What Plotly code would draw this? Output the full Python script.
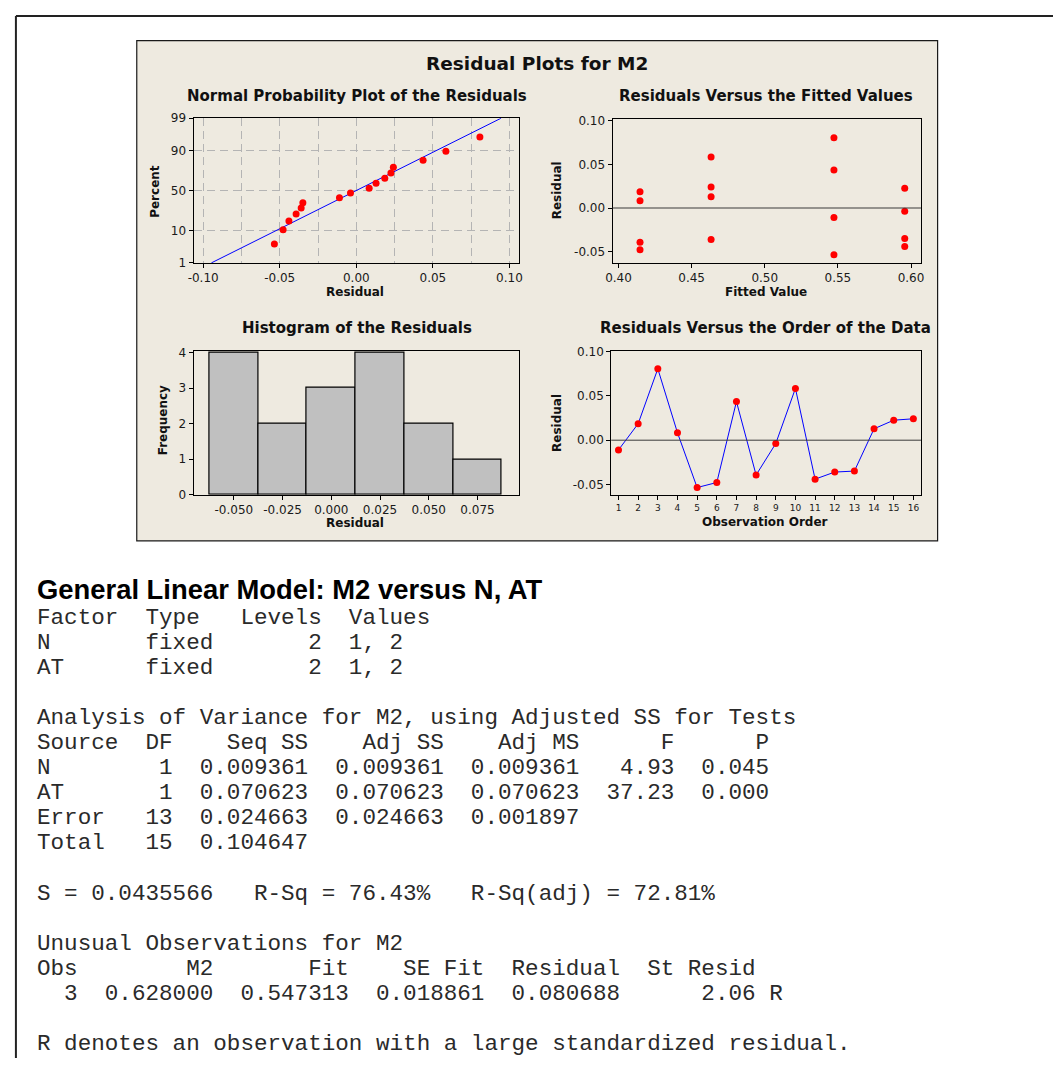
import numpy as np
import plotly.graph_objects as go
from statistics import NormalDist

W, H = 1056, 1065

# ---- data -------------------------------------------------------------
observation_order = list(range(1, 17))
residuals = [-0.0110, 0.0186, 0.0807, 0.0084, -0.0535, -0.0478, 0.0436, -0.0393,
             -0.0038, 0.0585, -0.0440, -0.0360, -0.0349, 0.0129, 0.0226, 0.0242]
fitted_values = [0.5473, 0.4147, 0.5473, 0.4147, 0.5473, 0.4147, 0.5473, 0.4147,
                 0.5957, 0.4633, 0.5957, 0.4633, 0.5957, 0.4633, 0.5957, 0.4633]

pct_ticks = [1, 10, 50, 90, 99]
pct_labels = ["1", "10", "50", "90", "99"]
npp_x_ticks = [-0.10, -0.05, 0.0, 0.05, 0.10]
npp_x_labels = ["-0.10", "-0.05", "0.00", "0.05", "0.10"]
npp_x_grid = [-0.10, -0.075, -0.05, -0.025, 0.0, 0.025, 0.05, 0.075, 0.10]
resid_ticks = [-0.05, 0.0, 0.05, 0.10]
resid_labels = ["-0.05", "0.00", "0.05", "0.10"]
fit_ticks = [0.40, 0.45, 0.50, 0.55, 0.60]
fit_labels = ["0.40", "0.45", "0.50", "0.55", "0.60"]
hist_x_ticks = [-0.050, -0.025, 0.0, 0.025, 0.050, 0.075]
hist_x_labels = ["-0.050", "-0.025", "0.000", "0.025", "0.050", "0.075"]
hist_y_ticks = [0, 1, 2, 3, 4]
hist_bin_start, hist_bin_size = -0.0625, 0.025

session_lines = [
    "Factor  Type   Levels  Values",
    "N       fixed       2  1, 2",
    "AT      fixed       2  1, 2",
    "",
    "Analysis of Variance for M2, using Adjusted SS for Tests",
    "Source  DF    Seq SS    Adj SS    Adj MS      F      P",
    "N        1  0.009361  0.009361  0.009361   4.93  0.045",
    "AT       1  0.070623  0.070623  0.070623  37.23  0.000",
    "Error   13  0.024663  0.024663  0.001897",
    "Total   15  0.104647",
    "",
    "S = 0.0435566   R-Sq = 76.43%   R-Sq(adj) = 72.81%",
    "",
    "Unusual Observations for M2",
    "Obs        M2       Fit    SE Fit  Residual  St Resid",
    "  3  0.628000  0.547313  0.018861  0.080688      2.06 R",
    "",
    "R denotes an observation with a large standardized residual.",
]

# ---- helpers: page pixel -> paper fraction ----------------------------
def px(x):
    return x / W


def py(y):
    return 1 - y / H


nd = NormalDist()
probit = nd.inv_cdf

res = np.array(residuals)
n = len(res)
sorted_res = np.sort(res)
# median-rank plotting positions on the normal probability scale
plot_pos = [probit((i - 0.3) / (n + 0.4)) for i in range(1, n + 1)]
mu, sd = res.mean(), res.std(ddof=1)
z_lo, z_hi = probit(0.01), probit(0.99)
line_z = np.linspace(z_lo, z_hi, 50)
line_x = mu + sd * line_z

TICK_FONT = dict(family="DejaVu Sans", size=12, color="#1a1a1a")
BOLD = "DejaVu Sans"


def axis(domain, rng, tickvals, ticktext, font=None, **kw):
    d = dict(domain=domain, range=rng, tickvals=tickvals, ticktext=ticktext,
             showline=True, linecolor="black", linewidth=1, mirror=True,
             ticks="outside", ticklen=4, tickwidth=1, tickcolor="black",
             tickfont=font or TICK_FONT, showgrid=False, zeroline=False,
             fixedrange=True)
    d.update(kw)
    return d


fig = go.Figure()

# Normal probability plot
fig.add_trace(go.Scatter(x=line_x, y=line_z, mode="lines",
                         line=dict(color="#0000FF", width=1),
                         xaxis="x", yaxis="y", hoverinfo="skip"))
fig.add_trace(go.Scatter(x=sorted_res, y=plot_pos, mode="markers",
                         marker=dict(color="#FF0000", size=7),
                         xaxis="x", yaxis="y"))

# Residuals versus fitted values
fig.add_trace(go.Scatter(x=fitted_values, y=residuals, mode="markers",
                         marker=dict(color="#FF0000", size=7),
                         xaxis="x2", yaxis="y2"))

# Histogram of residuals
fig.add_trace(go.Histogram(x=residuals,
                           xbins=dict(start=hist_bin_start, end=0.0875,
                                      size=hist_bin_size),
                           marker=dict(color="#C0C0C0",
                                       line=dict(color="black", width=1.2)),
                           xaxis="x3", yaxis="y3"))

# Residuals versus order
fig.add_trace(go.Scatter(x=observation_order, y=residuals, mode="lines+markers",
                         line=dict(color="#0000FF", width=1),
                         marker=dict(color="#FF0000", size=7),
                         xaxis="x4", yaxis="y4"))

grid_style = dict(gridcolor="#B4B4B4", gridwidth=1, griddash="8px,5px")

layout = dict(
    width=W, height=H, margin=dict(l=0, r=0, t=0, b=0, pad=0),
    paper_bgcolor="white", plot_bgcolor="white", showlegend=False,
    bargap=0,
    xaxis=axis([px(188.3), px(517.3)], [-0.1063, 0.1065], npp_x_ticks, npp_x_labels,
               anchor="y",
               minor=dict(tickvals=npp_x_grid, showgrid=True, ticks="", **grid_style)),
    yaxis=axis([py(259.3), py(112.7)], [z_lo, z_hi], [probit(p / 100) for p in pct_ticks],
               pct_labels, anchor="x", showgrid=True, **grid_style),
    xaxis2=axis([px(611.3), px(922.7)], [0.3959, 0.6068], fit_ticks, fit_labels, anchor="y2"),
    yaxis2=axis([py(259.0), py(113.3)], [-0.0626, 0.1023], resid_ticks, resid_labels, anchor="x2"),
    xaxis3=axis([px(188.3), px(517.3)], [-0.0707, 0.0965], hist_x_ticks, hist_x_labels, anchor="y3"),
    yaxis3=axis([py(494.3), py(348.3)], [0, 4.055], hist_y_ticks,
                [str(v) for v in hist_y_ticks], anchor="x3"),
    xaxis4=axis([px(610.0), px(922.7)], [0.63, 16.386], observation_order,
                [str(v) for v in observation_order], anchor="y4",
                font=dict(family="DejaVu Sans", size=9, color="#1a1a1a")),
    yaxis4=axis([py(494.3), py(348.3)], [-0.0617, 0.1011], resid_ticks, resid_labels, anchor="x4"),
)
fig.update_layout(**layout)

# Frame lines, panel background and zero reference lines
shapes = [
    dict(type="line", xref="paper", yref="paper", x0=px(9), x1=px(W), y0=py(9), y1=py(9),
         line=dict(color="#222222", width=2), layer="below"),
    dict(type="line", xref="paper", yref="paper", x0=px(9), x1=px(9), y0=py(9), y1=py(H),
         line=dict(color="#222222", width=2), layer="below"),
    dict(type="rect", xref="paper", yref="paper", x0=px(131), x1=px(939.5), y0=py(34), y1=py(541),
         fillcolor="#EEEAE0", line=dict(color="#1a1a1a", width=1.2), layer="below"),
    dict(type="line", xref="x2 domain", yref="y2", x0=0, x1=1, y0=0, y1=0,
         line=dict(color="#3a3a3a", width=1), layer="above"),
    dict(type="line", xref="x4 domain", yref="y4", x0=0, x1=1, y0=0, y1=0,
         line=dict(color="#3a3a3a", width=1), layer="above"),
]
fig.update_layout(shapes=shapes)


def label(text, x, y, size, bold=True, angle=0, family=BOLD, anchor="center", color="#111111"):
    t = f"<b>{text}</b>" if bold else text
    return dict(text=t, x=px(x), y=py(y), xref="paper", yref="paper",
                xanchor=anchor, yanchor="middle", showarrow=False, textangle=angle,
                font=dict(family=family, size=size, color=color))


annotations = [
    label("Residual Plots for M2", 535, 57.5, 18.5),
    label("Normal Probability Plot of the Residuals", 353, 90.5, 15),
    label("Residuals Versus the Fitted Values", 766, 90.5, 15),
    label("Histogram of the Residuals", 353, 325, 15),
    label("Residuals Versus the Order of the Data", 765.5, 325, 15),
    label("Residual", 351.3, 288.3, 12),
    label("Percent", 150, 186.7, 12, angle=-90),
    label("Fitted Value", 766.3, 288.3, 12),
    label("Residual", 555, 186, 12, angle=-90),
    label("Residual", 351.3, 523.3, 12),
    label("Frequency", 158.3, 419, 12, angle=-90),
    label("Observation Order", 765.7, 521.7, 12),
    label("Residual", 555, 421.7, 12, angle=-90),
    label("General Linear Model: M2 versus N, AT", 28, 590, 27.4, family="Liberation Sans",
          anchor="left", color="black"),
]

line_y0, line_step = 619, 25.4
for k, line in enumerate(session_lines):
    if not line:
        continue
    annotations.append(label(line.replace(" ", "\u00a0"), 28, line_y0 + k * line_step, 22.6,
                             bold=False, family="Liberation Mono", anchor="left",
                             color="#2a2a2a"))

fig.update_layout(annotations=annotations)
fig.write_html("out.html")
